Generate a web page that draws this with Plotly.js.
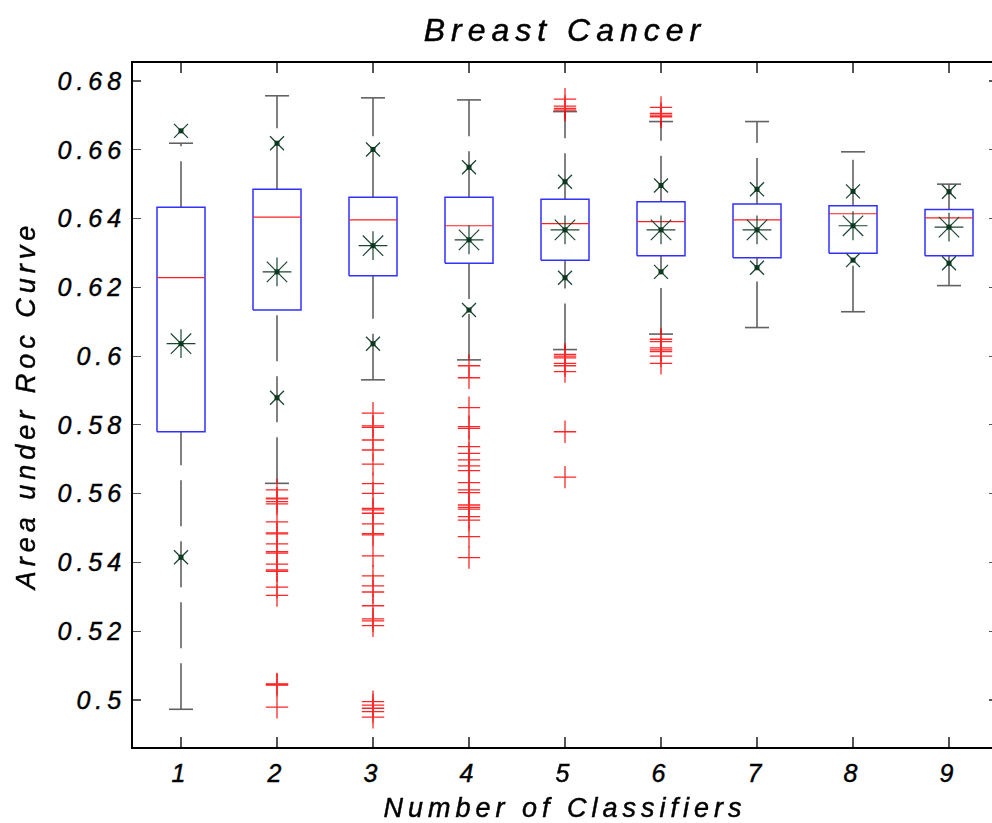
<!DOCTYPE html>
<html>
<head>
<meta charset="utf-8">
<script src="https://cdn.plot.ly/plotly-3.0.1.min.js"></script>
<style>
html, body { margin: 0; padding: 0; overflow: hidden; background: #fff; }
#chart { width: 1000px; height: 823px; }
.gtitle { letter-spacing: 6px; stroke: #000; stroke-width: 0.5px; }
.xtitle, .ytitle { letter-spacing: 5px; stroke: #000; stroke-width: 0.45px; }
.xtick text, .ytick text { letter-spacing: 5px; stroke: #000; stroke-width: 0.45px; }
</style>
</head>
<body>
<div id="chart"></div>
<script>
// ---- data ----
const categories = [1, 2, 3, 4, 5, 6, 7, 8, 9];
const tickLabels = ['1', '2', '3', '4', '5', '6', '7', '8', '9'];
const upperWhisker = [0.6619, 0.6757, 0.6751, 0.6745, 0.6711, 0.6682, 0.6682, 0.6594, 0.6500];
const upperStd     = [0.6655, 0.6619, 0.6601, 0.6549, 0.6507, 0.6496, 0.6485, 0.6479, 0.6478];
const q3Values     = [0.6433, 0.6485, 0.6462, 0.6462, 0.6456, 0.6449, 0.6442, 0.6437, 0.6426];
const medianValues = [0.6228, 0.6404, 0.6396, 0.6379, 0.6385, 0.6391, 0.6396, 0.6414, 0.6402];
const meanValues   = [0.6036, 0.6245, 0.6321, 0.6338, 0.6367, 0.6367, 0.6367, 0.6379, 0.6375];
const q1Values     = [0.5780, 0.6134, 0.6234, 0.6270, 0.6279, 0.6292, 0.6286, 0.6299, 0.6292];
const lowerStd     = [0.5415, 0.5879, 0.6036, 0.6134, 0.6228, 0.6245, 0.6257, 0.6279, 0.6270];
const lowerWhisker = [0.4973, 0.5630, 0.5931, 0.5989, 0.6019, 0.6064, 0.6083, 0.6129, 0.6205];
const outliers1 = [];
const outliers2 = [0.5611, 0.5587, 0.5585, 0.5577, 0.5570, 0.5518, 0.5486, 0.5483, 0.5454, 0.5431,
                   0.5427, 0.5395, 0.5378, 0.5374, 0.5328, 0.5304, 0.5047, 0.5045, 0.5043, 0.4979];
const outliers3 = [0.5834, 0.5797, 0.5793, 0.5756, 0.5727, 0.5686, 0.5629, 0.5601, 0.5557, 0.5553,
                   0.5543, 0.5512, 0.5484, 0.5480, 0.5419, 0.5361, 0.5332, 0.5314, 0.5274, 0.5236,
                   0.5230, 0.5216, 0.4995, 0.4985, 0.4976, 0.4966, 0.4950];
const outliers4 = [0.5972, 0.5937, 0.5850, 0.5795, 0.5790, 0.5737, 0.5717, 0.5698, 0.5681, 0.5667,
                   0.5632, 0.5611, 0.5603, 0.5567, 0.5560, 0.5555, 0.5533, 0.5523, 0.5475, 0.5414];
const outliers5 = [0.6747, 0.6727, 0.6720, 0.6715, 0.6005, 0.6000, 0.5995, 0.5979, 0.5972, 0.5955,
                   0.5780, 0.5648];
const outliers6 = [0.6723, 0.6706, 0.6701, 0.6696, 0.6049, 0.6042, 0.6024, 0.6018, 0.6013, 0.6000,
                   0.5979];
const outliers7 = [];
const outliers8 = [];
const outliers9 = [];
const outlierSets = [outliers1, outliers2, outliers3, outliers4, outliers5, outliers6, outliers7, outliers8, outliers9];

// ---- style ----
const BOX_HALF = 0.25, CAP_HALF = 0.125;
const GREEN = '#1d4632';
const FONT = { family: 'Liberation Sans, Arial, sans-serif', style: 'italic', color: '#000' };

// ---- build traces ----
const boxX = [], boxY = [], medX = [], medY = [], whX = [], whY = [], capX = [], capY = [];
const outX = [], outY = [], sdX = [], sdY = [];
categories.forEach((c, i) => {
  boxX.push(c - BOX_HALF, c + BOX_HALF, c + BOX_HALF, c - BOX_HALF, c - BOX_HALF, null);
  boxY.push(q1Values[i], q1Values[i], q3Values[i], q3Values[i], q1Values[i], null);
  medX.push(c - BOX_HALF, c + BOX_HALF, null);
  medY.push(medianValues[i], medianValues[i], null);
  whX.push(c, c, null, c, c, null);
  whY.push(lowerWhisker[i], q1Values[i], null, q3Values[i], upperWhisker[i], null);
  capX.push(c - CAP_HALF, c + CAP_HALF, null, c - CAP_HALF, c + CAP_HALF, null);
  capY.push(lowerWhisker[i], lowerWhisker[i], null, upperWhisker[i], upperWhisker[i], null);
  outlierSets[i].forEach(v => { outX.push(c); outY.push(v); });
  sdX.push(c, c); sdY.push(upperStd[i], lowerStd[i]);
});

const traces = [
  { x: whX, y: whY, mode: 'lines', line: { color: '#626262', width: 1.6, dash: '46px,15px' }, hoverinfo: 'skip' },
  { x: capX, y: capY, mode: 'lines', line: { color: '#626262', width: 1.6 }, hoverinfo: 'skip' },
  { x: boxX, y: boxY, mode: 'lines', line: { color: '#3030ff', width: 1.5 }, hoverinfo: 'skip' },
  { x: medX, y: medY, mode: 'lines', line: { color: '#ff2020', width: 1.2 }, hoverinfo: 'skip' },
  { x: outX, y: outY, mode: 'markers', marker: { symbol: 'cross-thin-open', size: 16, color: '#ff0000', line: { color: '#ff0000', width: 1.3 } }, opacity: 0.85 },
  { x: sdX, y: sdY, mode: 'markers', marker: { symbol: 'x-thin-open', size: 14, color: GREEN, line: { color: GREEN, width: 1.3 } } },
  { x: categories, y: meanValues, mode: 'markers', marker: { symbol: 'asterisk-open', size: 24, color: GREEN, line: { color: GREEN, width: 1.2 } } },
  { x: sdX.concat(categories), y: sdY.concat(meanValues), mode: 'markers', marker: { symbol: 'square', size: 5, color: '#0d3a1f' } }
];

const layout = {
  width: 1000, height: 823,
  margin: { l: 133, r: 3, t: 63, b: 76 },
  paper_bgcolor: '#fff', plot_bgcolor: '#fff',
  showlegend: false,
  title: { text: 'Breast Cancer', font: Object.assign({ size: 32 }, FONT),
           x: 0.5, xref: 'paper', y: 1 - 30 / 823, yref: 'container', yanchor: 'middle' },
  xaxis: {
    range: [0.5, 9.5], tickvals: categories, ticktext: tickLabels,
    showgrid: false, zeroline: false, showline: true, linecolor: '#000', linewidth: 1.8,
    mirror: 'allticks', ticks: 'inside', ticklen: 10, tickwidth: 1.2, tickcolor: '#555',
    tickfont: Object.assign({ size: 25 }, FONT), ticklabelstandoff: 3,
    title: { text: 'Number of Classifiers', font: Object.assign({ size: 27 }, FONT), standoff: 12 }
  },
  yaxis: {
    range: [0.48633, 0.68523],
    tickvals: [0.5, 0.52, 0.54, 0.56, 0.58, 0.6, 0.62, 0.64, 0.66, 0.68],
    ticktext: ['0.5', '0.52', '0.54', '0.56', '0.58', '0.6', '0.62', '0.64', '0.66', '0.68'],
    showgrid: false, zeroline: false, showline: true, linecolor: '#000', linewidth: 1.8,
    mirror: 'allticks', ticks: 'inside', ticklen: 8, tickwidth: 1.2, tickcolor: '#555',
    tickfont: Object.assign({ size: 25 }, FONT), ticklabelstandoff: 0,
    title: { text: 'Area under Roc Curve', font: Object.assign({ size: 27 }, FONT), standoff: 14 }
  }
};

Plotly.newPlot('chart', traces, layout, { staticPlot: true, displayModeBar: false });
</script>
</body>
</html>
